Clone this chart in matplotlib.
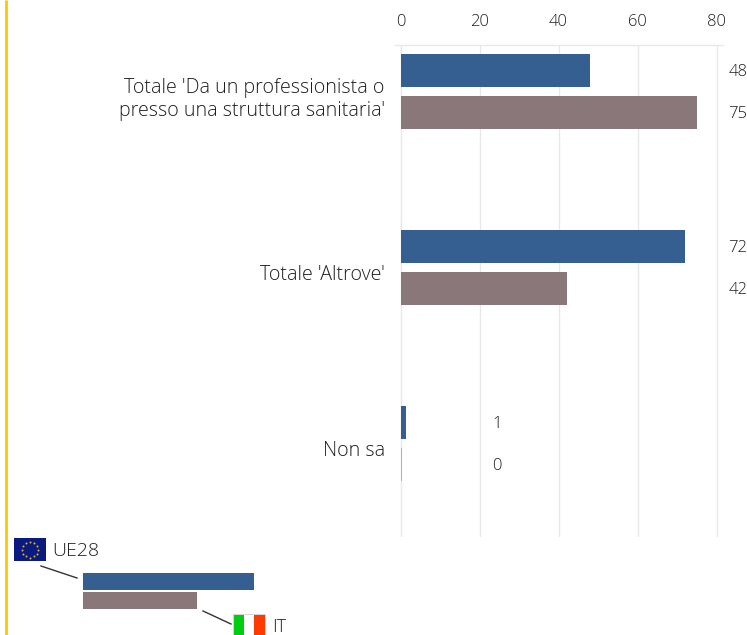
import numpy as np
import matplotlib
matplotlib.use("Agg")
import matplotlib.pyplot as plt
from matplotlib.patches import Rectangle

plt.rcParams['font.family'] = ['Open Sans', 'DejaVu Sans']

categories = ["Totale 'Da un professionista o\npresso una struttura sanitaria'", "Totale 'Altrove'", "Non sa"]
# bar lengths, labels as printed
ue28 = [48.1, 72.0, 1.3]
it = [75.1, 42.1, 0.3]
ue28_labels = ['48', '72', '1']
it_labels = ['75', '42', '0']
ticks = [0, 20, 40, 60, 80]
key_ue28 = 43.3
key_it = 28.8

BLUE = '#355f91'
BROWN = '#89777a'
TEXT = '#1f1f1f'
GRID = '#e8e8e8'

W, H = 747, 635
fig = plt.figure(figsize=(W / 100, H / 100), dpi=100)

# main axes, placed in pixels
left, right, top, bottom = 395.0, 723.0, 44.5, 537.0
ax = fig.add_axes([left / W, 1 - bottom / H, (right - left) / W, (bottom - top) / H])
ppu = 3.95
ax.set_xlim(-(400.5 - left) / ppu, (right - 400.5) / ppu)
# one category step = 176 px, first category centre at y=91.5
ax.set_ylim((bottom - 91.5) / 176, -(91.5 - top) / 176)

y = np.arange(len(categories))
off = 21 / 176
h = 33 / 176
ax.barh(y - off, ue28, height=h, color=BLUE, linewidth=0, zorder=3)
bars_it = ax.barh(y + off, it, height=h, color=BROWN, linewidth=0, zorder=3)
# the zero bar is only a faint sliver in the original
bars_it[2].set_alpha(0.5)

for i, cat in enumerate(categories):
    ax.text(-4.0, i + 8 / 176, cat, ha='right', va='center', fontsize=14.1, color=TEXT,
            fontweight='light', linespacing=1.22, multialignment='right')
    for v, lab, o in ((ue28[i], ue28_labels[i], -off), (it[i], it_labels[i], off)):
        lx = 83.0 if v >= 10 else 23.2
        ax.text(lx, i + o + 1.5 / 176, lab, ha='left', va='center', fontsize=12, color=TEXT,
                fontweight='light', clip_on=False)

for s in ax.spines.values():
    s.set_visible(False)
ax.spines['top'].set_visible(True)
ax.spines['top'].set_color(GRID)
ax.spines['top'].set_linewidth(1)
ax.xaxis.tick_top()
ax.set_xticks(ticks)
ax.set_yticks([])
ax.tick_params(axis='x', length=0, pad=10.5, labelsize=12, labelcolor=TEXT)
for t in ax.get_xticklabels():
    t.set_fontweight('light')
ax.grid(axis='x', color=GRID, linewidth=1, zorder=0)
ax.set_axisbelow(True)
ax.patch.set_alpha(0)

# overlay in pixel coords for the key and the yellow rule
ov = fig.add_axes([0, 0, 1, 1], zorder=5)
ov.set_xlim(0, W)
ov.set_ylim(H, 0)
ov.axis('off')
ov.plot([5.5, 5.5], [0, H], color='#fcc800', lw=2, solid_capstyle='butt')

# key bars
ov.barh(581.5, key_ue28 * 3.95, left=83, height=17, color=BLUE)
ov.barh(600.5, key_it * 3.95, left=83, height=17, color=BROWN)
ov.plot([41, 77], [566, 578], color='#333333', lw=1)
ov.plot([203, 231], [611, 624], color='#333333', lw=1)

# EU flag
ov.add_patch(Rectangle((14, 538), 32, 23, color='#0b1a80', lw=0))
ang = np.arange(12) * np.pi / 6
ov.scatter(30 + 8 * np.cos(ang), 549.5 + 8 * np.sin(ang), s=2, color='#d8c020', lw=0, zorder=6)
ov.text(52, 550.5, "UE28", ha='left', va='center', fontsize=14, color=TEXT, fontweight='light')

# Italian flag
ov.add_patch(Rectangle((233, 614), 32, 24, facecolor='#ffffff', edgecolor='#cfcfcf', lw=0.6))
ov.add_patch(Rectangle((233.5, 615), 10.5, 23, color='#00cc11', lw=0))
ov.add_patch(Rectangle((254, 615), 11, 23, color='#ff3a00', lw=0))
ov.text(272, 626.5, "IT", ha='left', va='center', fontsize=13, color=TEXT, fontweight='light')

fig.savefig("out.png", dpi=100)
